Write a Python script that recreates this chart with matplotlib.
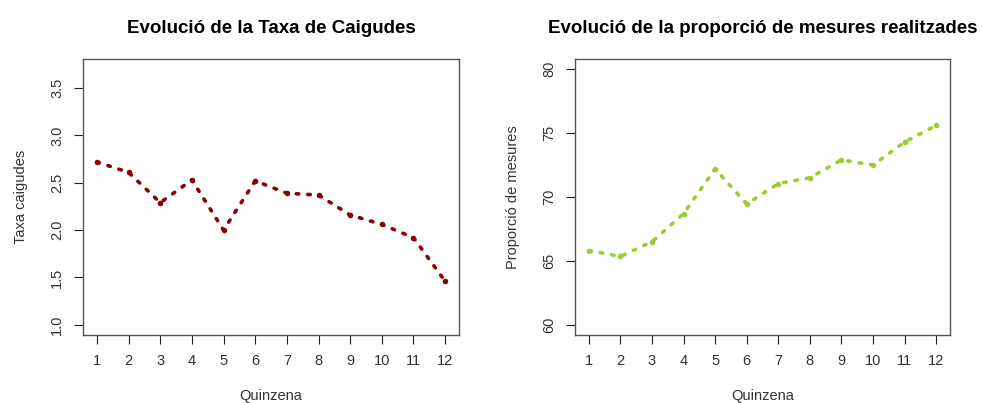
import matplotlib
matplotlib.use("Agg")
import matplotlib.pyplot as plt
import numpy as np

# Dades llegides del gràfic
quinzena = [1, 2, 3, 4, 5, 6, 7, 8, 9, 10, 11, 12]
taxa_caigudes = [2.72, 2.61, 2.29, 2.53, 2.00, 2.52, 2.39, 2.37, 2.16, 2.06, 1.92, 1.46]
proporcio_mesures = [65.8, 65.35, 66.5, 68.7, 72.2, 69.45, 71.05, 71.5, 72.9, 72.5, 74.3, 75.6]

plt.rcParams["font.family"] = ["Liberation Sans", "DejaVu Sans"]

fig = plt.figure(figsize=(9.82, 4.03), dpi=100)
ax1 = fig.add_axes([0.0845, 0.1687, 0.383, 0.685])
ax2 = fig.add_axes([0.5855, 0.1687, 0.382, 0.685])


def estil_r(ax, ylim, yticks, ylabel, titol):
    # imitar l'estil base de R (eixos estesos un 4%)
    r = ylim[1] - ylim[0]
    ax.set_ylim(ylim[0] - 0.04 * r, ylim[1] + 0.04 * r)
    ax.set_xlim(1 - 0.44, 12 + 0.44)
    ax.set_xticks(quinzena)
    ax.set_yticks(yticks)
    ax.set_yticklabels([f"{t:g}" if isinstance(t, int) else f"{t:.1f}" for t in yticks],
                       rotation=90, va="center")
    ax.tick_params(direction="out", length=6.5, width=0.8, colors="#222222",
                   labelsize=10.5, labelcolor="#333333", pad=7)
    for s in ax.spines.values():
        s.set_color("#555555")
        s.set_linewidth(1)
    ax.set_xlabel("Quinzena", fontsize=10.5, color="#333333", labelpad=15)
    ax.set_ylabel(ylabel, fontsize=10.5, color="#333333", labelpad=16)
    ax.set_title(titol, fontsize=13.5, fontweight="bold", pad=19)


ax1.plot(quinzena, taxa_caigudes, color="#8B0000", lw=2.6,
         linestyle=(0, (0.7, 2.5)), dash_capstyle="round",
         marker="o", markersize=4, markeredgewidth=0)
estil_r(ax1, (1.0, 3.7), [1.0, 1.5, 2.0, 2.5, 3.0, 3.5], "Taxa caigudes",
        "Evolució de la Taxa de Caigudes")

ax2.plot(quinzena, proporcio_mesures, color="#9ACD32", lw=2.6,
         linestyle=(0, (0.7, 2.5)), dash_capstyle="round",
         marker="o", markersize=4, markeredgewidth=0)
estil_r(ax2, (60, 80), [60, 65, 70, 75, 80], "Proporció de mesures",
        "Evolució de la proporció de mesures realitzades")

fig.savefig("out.png", dpi=100)
